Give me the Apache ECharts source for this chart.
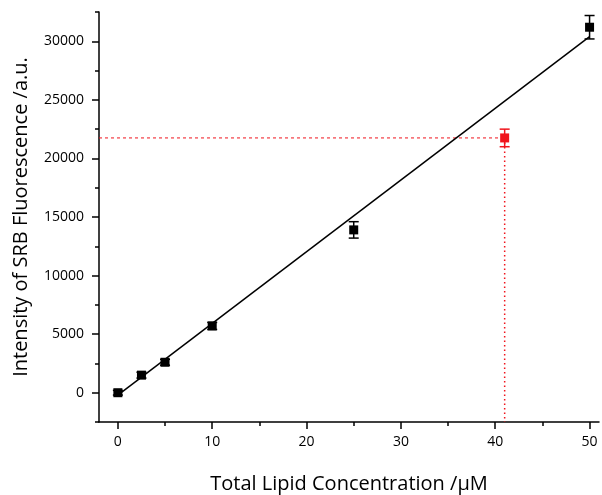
<!DOCTYPE html>
<html>
<head>
<meta charset="utf-8">
<script src="https://cdn.jsdelivr.net/npm/echarts@6/dist/echarts.min.js"></script>
<style>
  html, body { margin: 0; padding: 0; background: #fff; }
  #chart { width: 602px; height: 495px; }
</style>
</head>
<body>
<div id="chart"></div>
<script>
// standard points: concentration, intensity, error
const conc = [0, 2.5, 5, 10, 25, 50]
const intensity = [0, 1500, 2600, 5700, 13900, 31200]
const errs = [200, 250, 250, 300, 700, 1000]
// sample point read from the calibration
const sampleX = 41
const sampleY = 21750
const sampleErr = 750
// linear fit end points
const fitLine = [[0, -200], [50, 30400]]

const xTicks = [0, 10, 20, 30, 40, 50]
const xMinor = [5, 15, 25, 35, 45]
const yTicks = [0, 5000, 10000, 15000, 20000, 25000, 30000]
const yMinor = [-2500, 2500, 7500, 12500, 17500, 22500, 27500, 32500]

const font = '"Open Sans", "Noto Sans", sans-serif'
const red = '#f0141c'

const chart = echarts.init(document.getElementById('chart'))

function errorBars(color) {
  return function (params, api) {
    const x = api.value(0)
    const lo = api.coord([x, api.value(1) - api.value(2)])
    const hi = api.coord([x, api.value(1) + api.value(2)])
    const w = 5
    const style = { stroke: color, lineWidth: 1.5 }
    return {
      type: 'group',
      children: [
        { type: 'line', shape: { x1: lo[0], y1: lo[1], x2: hi[0], y2: hi[1] }, style },
        { type: 'line', shape: { x1: lo[0] - w, y1: lo[1], x2: lo[0] + w, y2: lo[1] }, style },
        { type: 'line', shape: { x1: hi[0] - w, y1: hi[1], x2: hi[0] + w, y2: hi[1] }, style }
      ]
    }
  }
}

const xBase = {
  type: 'value',
  min: -2,
  max: 51,
  splitLine: { show: false }
}
const yBase = {
  type: 'value',
  min: -2500,
  max: 32500,
  splitLine: { show: false }
}

chart.setOption({
  animation: false,
  grid: { left: 99, top: 12, right: 3, bottom: 73, outerBoundsMode: 'none', containLabel: false },
  xAxis: [{
    ...xBase,
    name: 'Total Lipid Concentration /μM',
    nameLocation: 'middle',
    nameGap: 52,
    nameTextStyle: { fontFamily: font, fontSize: 20, color: '#000' },
    axisLine: { onZero: false, lineStyle: { color: '#000', width: 1.5 } },
    axisTick: { inside: false, length: 7, customValues: xTicks, lineStyle: { color: '#000', width: 1.5 } },
    axisLabel: { customValues: xTicks, margin: 13, fontFamily: font, fontSize: 14, color: '#000' }
  }, {
    ...xBase,
    position: 'bottom',
    axisLine: { show: false, onZero: false },
    axisTick: { inside: false, length: 4, customValues: xMinor, lineStyle: { color: '#000', width: 1.5 } },
    axisLabel: { show: false }
  }],
  yAxis: [{
    ...yBase,
    name: 'Intensity of SRB Fluorescence /a.u.',
    nameLocation: 'middle',
    nameGap: 68,
    nameTextStyle: { fontFamily: font, fontSize: 20, color: '#000' },
    axisLine: { show: true, onZero: false, lineStyle: { color: '#000', width: 1.5 } },
    axisTick: { show: true, inside: false, length: 7, customValues: yTicks, lineStyle: { color: '#000', width: 1.5 } },
    axisLabel: { customValues: yTicks, margin: 15, fontFamily: font, fontSize: 14, color: '#000', formatter: v => String(v) }
  }, {
    ...yBase,
    position: 'left',
    axisLine: { show: false, onZero: false },
    axisTick: { show: true, inside: false, length: 4, customValues: yMinor, lineStyle: { color: '#000', width: 1.5 } },
    axisLabel: { show: false }
  }],
  series: [{
    type: 'line',
    data: fitLine,
    symbol: 'none',
    lineStyle: { color: '#000', width: 1.5 },
    z: 2
  }, {
    // guide lines from the axes to the sample point
    type: 'line',
    data: [[-2, sampleY], [sampleX, sampleY]],
    symbol: 'none',
    itemStyle: { color: red },
    lineStyle: { color: red, width: 1, type: [3, 3] },
    z: 1
  }, {
    type: 'line',
    data: [[sampleX, sampleY], [sampleX, -2500]],
    symbol: 'none',
    itemStyle: { color: red },
    lineStyle: { color: red, width: 1.5, type: [1.5, 3] },
    z: 1
  }, {
    type: 'custom',
    renderItem: errorBars('#000'),
    data: conc.map((c, i) => [c, intensity[i], errs[i]]),
    z: 3
  }, {
    type: 'custom',
    renderItem: errorBars(red),
    data: [[sampleX, sampleY, sampleErr]],
    z: 3
  }, {
    type: 'scatter',
    data: conc.map((c, i) => [c, intensity[i]]),
    symbol: 'rect',
    symbolSize: 9,
    itemStyle: { color: '#000', opacity: 1 },
    z: 4
  }, {
    type: 'scatter',
    data: [[sampleX, sampleY]],
    symbol: 'rect',
    symbolSize: 9,
    itemStyle: { color: red, opacity: 1 },
    z: 4
  }]
})
</script>
</body>
</html>
